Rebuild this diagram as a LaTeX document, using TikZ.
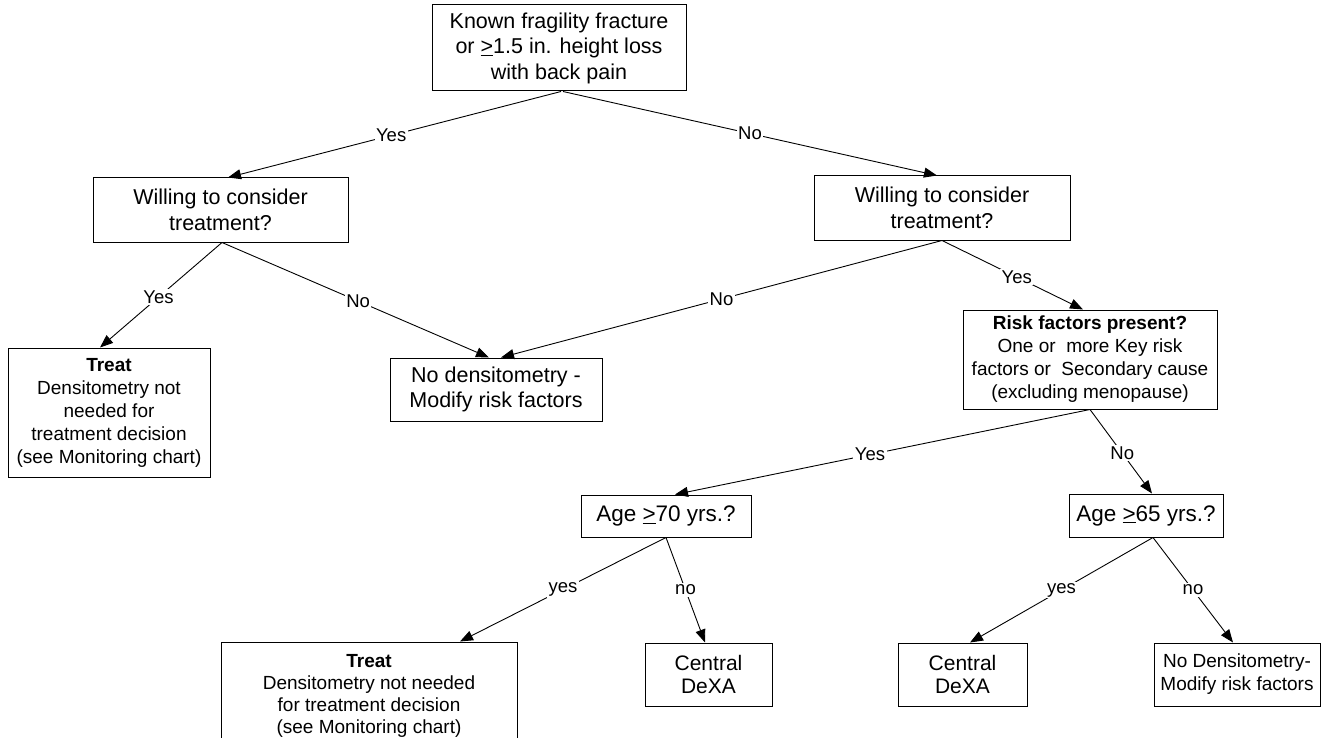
\documentclass[tikz,border=0pt]{standalone}
\usepackage{fontspec}
\setmainfont{Liberation Sans}
\usetikzlibrary{arrows.meta,calc}
\begin{document}
\begin{tikzpicture}[x=1pt,y=-1pt,
  box/.style={draw,line width=1pt,inner sep=0pt,align=center,anchor=center},
  big/.style={box,font=\fontsize{21.5}{25.5}\selectfont},
  small/.style={box,font=\fontsize{19}{23}\selectfont},
  conn/.style={line width=0.9pt,-{Triangle[length=13pt,width=10pt]}},
  lab/.style={fill=white,inner sep=1.5pt,font=\fontsize{18.5}{21}\selectfont}]
\clip (0,0) rectangle (1325,738);
\fill[white] (0,0) rectangle (1325,738);
% nodes
\node[big,minimum width=254pt,minimum height=86pt] (top) at (559,48)
  {Known fragility fracture\\or \underline{>}1.5 in. height loss\\with back pain};
\node[big,minimum width=255pt,minimum height=64pt] (willL) at (220.5,210)
  {Willing to consider\\treatment?};
\node[big,minimum width=256pt,minimum height=64pt] (willR) at (942,208)
  {Willing to consider\\treatment?};
\node[small,minimum width=202pt,minimum height=129pt] (treatL) at (109,412.5)
  {\textbf{Treat}\\Densitometry not\\needed for\\treatment decision\\(see Monitoring chart)};
\node[big,minimum width=212pt,minimum height=63pt] (nodens) at (496,389.5)
  {No densitometry -\\Modify risk factors};
\node[small,minimum width=254pt,minimum height=99pt] (risk) at (1090,359.5)
  {\textbf{Risk factors present?}\\One or\ \ more Key risk\\factors or\ \ Secondary cause\\(excluding menopause)};
\node[big,font=\fontsize{22.5}{26}\selectfont,minimum width=170pt,minimum height=42pt] (age70) at (666,516)
  {Age \underline{>}70 yrs.?};
\node[big,font=\fontsize{22.5}{26}\selectfont,minimum width=154pt,minimum height=43pt] (age65) at (1146,515.5)
  {Age \underline{>}65 yrs.?};
\node[small,font=\fontsize{19}{22}\selectfont,minimum width=296pt,minimum height=108pt] (treatB) at (369,696)
  {\textbf{Treat}\\Densitometry not needed\\for treatment decision\\(see Monitoring chart)};
\node[big,font=\fontsize{21}{23}\selectfont,minimum width=127pt,minimum height=63pt] (cdL) at (708.5,674.5)
  {Central\\DeXA};
\node[big,font=\fontsize{21}{23}\selectfont,minimum width=129pt,minimum height=63pt] (cdR) at (962.5,674.5)
  {Central\\DeXA};
\node[small,minimum width=166pt,minimum height=63pt] (nodR) at (1237,674.5)
  {No Densitometry-\\Modify risk factors};
% connectors
\draw[conn] ([xshift=2pt]top.south) -- node[lab,pos=0.51]{Yes} ([xshift=7.5pt]willL.north);
\draw[conn] ([xshift=4pt]top.south) -- node[lab,pos=0.5]{No} ([xshift=-5pt]willR.north);
\draw[conn] ([xshift=1.5pt]willL.south) -- node[lab,pos=0.52]{Yes} ([xshift=-9pt]treatL.north);
\draw[conn] ([xshift=1.5pt]willL.south) -- node[lab,pos=0.51]{No} ([xshift=-7pt]nodens.north);
\draw[conn] (willR.south) -- node[lab,pos=0.5]{No} ([xshift=5pt]nodens.north);
\draw[conn] (willR.south) -- node[lab,pos=0.53]{Yes} ([xshift=-7pt]risk.north);
\draw[conn] (risk.south) -- node[lab,pos=0.53]{Yes} ([xshift=9pt]age70.north);
\draw[conn] (risk.south) -- node[lab,pos=0.52]{No} ([xshift=6pt]age65.north);
\draw[conn] (age70.south) -- node[lab,pos=0.5]{yes} ([xshift=91pt]treatB.north);
\draw[conn] (age70.south) -- node[lab,pos=0.5]{no} ([xshift=-3.5pt]cdL.north);
\draw[conn] ([xshift=7pt]age65.south) -- node[lab,pos=0.5]{yes} ([xshift=7.5pt]cdR.north);
\draw[conn] ([xshift=7pt]age65.south) -- node[lab,pos=0.5]{no} ([xshift=-4pt]nodR.north);
\end{tikzpicture}
\end{document}
